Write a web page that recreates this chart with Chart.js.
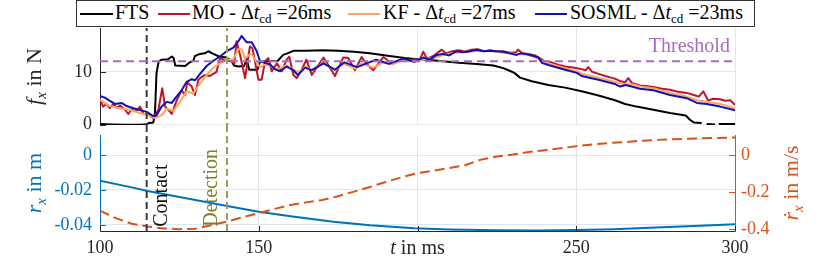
<!DOCTYPE html>
<html><head><meta charset="utf-8">
<script src="https://cdn.jsdelivr.net/npm/chart.js@4.4.1/dist/chart.umd.min.js"></script>
<style>
html,body{margin:0;padding:0;background:#fff;width:830px;height:257px;overflow:hidden;}
#wrap{position:relative;width:830px;height:257px;}
canvas{position:absolute;left:0;}
#c1{top:0;} #c2{top:130px;}
#legend{position:absolute;left:76px;top:0;width:677px;height:25px;border:1px solid #333;background:#fff;font-family:'Liberation Serif','DejaVu Serif',serif;font-size:20px;color:#000;z-index:5;}
.s{position:absolute;top:12px;height:2px;width:33px;}
.t{position:absolute;top:-1px;line-height:24px;white-space:nowrap;}
.t sub{font-size:13px;vertical-align:baseline;position:relative;top:4px;line-height:0;}
</style></head>
<body><div id="wrap">
<canvas id="c1" width="830" height="130"></canvas>
<canvas id="c2" width="830" height="127"></canvas>
<div id="legend">
<div class="s" style="left:3px;background:#000"></div><div class="t" style="left:38px">FTS</div>
<div class="s" style="left:81px;width:32px;background:#C0142C"></div><div class="t" style="left:115px">MO - Δ<i>t</i><sub>cd</sub> =26ms</div>
<div class="s" style="left:271px;width:32px;background:#FFA55A"></div><div class="t" style="left:306px">KF - Δ<i>t</i><sub>cd</sub> =27ms</div>
<div class="s" style="left:458px;width:32px;background:#1010B8"></div><div class="t" style="left:493px">SOSML - Δ<i>t</i><sub>cd</sub> =23ms</div>
</div>
</div>
<script>
// ---------- data ----------
const xTicks = [100,150,200,250,300];
const fTicks = [0,10];
const rTicks = [0,-0.02,-0.04];
const vTicks = [0,-0.2,-0.4];
const thresholdF = 12;
const contactT = 114.7;
const detectT = 140;

const ftsT = [100,104,108,112,114.5,115.5,116.8,117.3,117.8,118.5,119.4,121.5,122.6,123.2,123.7,126.8,128.3,129.4,129.9,131.5,133,134.1,135.7,137.5,139.9,141.5,142.2,143.6,145.4,146.2,147,149.6,150.4,153,156,157.7,159,161,165,170,175,180,185,190,196,200,203,208,213,218.6,223.9,227,229,230.5,232.3,236,241.2,246.5,251.7,257,262.2,265.4,269,274.3,279.5,284.5,285.8,287,289.5,290.3,291.1,293.7,294.3,294.9,300];
const ftsF = [0.1,0.0,-0.05,-0.05,0.0,0.3,0.4,2.0,9.8,12.0,12.3,12.4,12.9,12.6,11.2,11.1,11.8,12.1,13.0,13.4,13.5,13.9,13.4,12.9,12.7,12.0,11.2,11.0,11.1,12.4,10.4,10.4,11.9,12.0,12.1,13.2,13.5,14.0,14.0,14.1,14.0,13.8,13.5,13.1,12.6,12.4,12.3,12.0,11.7,11.5,11.2,10.7,10.2,9.8,8.9,8.2,7.5,7.0,6.3,5.5,4.6,3.9,3.4,2.8,2.2,1.7,0.9,0.4,0.3,null,0.1,0.0,null,0.1,0.1];

const moT = [100,101,102,103.1,104.2,105.2,106.3,107.9,108.9,110,111.3,112.6,113.7,115.2,116.8,118.4,119.6,120.5,121.5,122.6,124.1,125.7,126.8,127.5,128.9,129.9,131,132,133.1,134.5,136.7,137.8,139.9,141.5,142.3,143,144.2,145.7,147.2,148,149.9,150.9,152,153,154.1,155.7,157.2,158.8,159.6,160.9,162,164,165,166.7,168.5,170.4,172,174,176.6,178.2,180.3,182.4,184,186.1,189.2,191,193,195,197,199,200.5,201.8,203,205,207.6,209,211,213,215,217,219,221,223,225,227,229,231,231.7,233,235,237,239,240,242,244,246.5,249,251,253,253.8,255,257,259.1,261,262.2,264,265.4,266.4,267.5,270,272,274.3,277,279.5,282,284.8,287,288.6,290,291.6,293,295.3,297,298.5,300];
const moF = [4.7,3.4,3.9,3.1,3.9,3.2,3.6,2.8,2.0,2.9,2.5,3.4,2.0,1.9,1.2,2.8,6.9,3.4,2.8,2.0,4.5,6.5,5.6,8.0,7.2,5.6,8.5,9.0,9.4,9.2,10.0,12.6,12.1,12.0,11.5,15.8,13.0,8.8,14.8,14.5,8.5,8.5,12.0,12.6,10.1,11.6,10.1,12.3,12.9,9.4,8.8,11.0,12.3,9.4,11.0,12.7,11.2,9.2,12.7,12.6,10.3,12.8,11.5,10.3,12.8,12.0,11.8,12.4,12.0,12.4,12.0,13.8,12.5,13.0,14.2,13.5,13.9,14.1,13.8,14.2,14.3,13.9,14.1,13.8,13.9,13.6,13.7,14.2,13.5,13.4,13.1,12.4,12.0,11.8,11.4,11.0,10.8,10.6,10.3,10.9,10.0,9.6,9.2,8.9,8.7,8.2,8.0,8.8,7.9,7.4,7.3,7.1,6.8,6.6,6.2,6.0,5.6,5.3,6.3,4.5,4.9,4.8,4.5,4.6,3.7];

const kfT = [100,103.1,106.3,109.4,112.6,115.7,117.3,119.4,121,123.1,125.2,127.3,129.4,131.5,133.6,135.7,137.8,139.9,142,143.6,144.6,145.7,146.7,147.8,149.3,150.4,152,153.6,155.1,156.7,158.8,160.9,162.5,165,166.7,170.4,174,176.6,180.3,182.4,186.1,189.2,192,195.5,199,202,205,208,212,216,219,223,227,231,234,237,239.5,242,246.5,250,252,257,262,265,268,270,274.3,279.5,284.8,288,291,295.3,300];
const kfF = [4.7,3.5,3.1,2.8,2.2,1.7,1.2,1.8,3.0,2.6,4.3,6.3,5.9,7.8,9.4,10.8,11.6,12.3,12.4,14.3,14.3,12.5,13.1,13.4,11.8,10.9,11.4,11.2,10.5,10.7,11.2,10.4,10.0,11.0,10.3,11.7,10.3,11.6,10.6,11.6,10.8,11.8,11.4,12.2,11.9,12.4,12.6,13.2,13.6,13.8,14.0,13.9,13.6,13.4,13.3,12.8,11.9,11.5,10.7,10.1,9.6,8.9,8.1,7.7,7.6,7.2,6.9,6.0,5.3,4.6,4.3,3.9,3.1];

const smT = [100,101.5,103.1,104.7,106.8,108.4,110.5,112.6,114.7,116.8,117.8,119.4,121,122.6,124.1,125.7,127.3,128.9,130,131.5,133.6,135.7,137.8,139.9,142,143.6,144.6,146.2,147.8,149.3,150.4,152,153.6,155.1,156.7,158.8,160.9,162.3,164.6,166.7,170.4,174,177,181,184,187,191,195.5,199,201.8,203.9,206,208.1,210,212.3,214.5,216.5,218.6,220.7,222.8,225,227,229.1,231.2,232.5,234,236,238.1,239.2,241.2,246.5,250.2,251.7,257,262.2,263.8,265.5,267.5,270,274.3,279.5,284.8,288,291.1,295.3,300];
const smF = [5.4,5.1,4.5,3.9,4.1,3.5,3.1,2.75,2.4,1.6,1.7,3.4,4.3,4.1,5.3,6.5,8.1,8.6,8.4,9.6,11.1,12.1,12.9,13.9,14.6,15.8,16.8,15.6,15.6,14.0,12.0,11.7,11.4,10.5,10.1,11.0,10.3,9.4,10.8,10.3,11.6,10.4,11.8,10.9,11.6,12.3,11.5,12.5,11.9,12.7,12.3,13.2,13.4,13.1,13.9,13.7,13.9,14.2,13.9,14.0,13.9,13.8,13.5,13.2,13.5,13.4,13.1,12.7,11.7,11.3,10.4,9.8,9.2,8.5,7.7,7.2,7.5,7.2,6.8,6.5,5.6,5.0,4.1,3.9,3.4,2.7];

const rT = [100,110,115,125,130,140,150,160,173.5,185,199,210,225,238,250,262,275,287,300];
const rX = [-0.0147,-0.0185,-0.0206,-0.0240,-0.0257,-0.0291,-0.0324,-0.0350,-0.0381,-0.0401,-0.0419,-0.0426,-0.0430,-0.0431,-0.0429,-0.0424,-0.0415,-0.0406,-0.0396];

const vT = [100,105,110,115,120,125,130,135,140,145,150,155,160,165,170,175,180,185,190,195,200,205,210,215,220,225,230,235,240,245,250,255,260,265,270,275,280,285,290,295,300];
const vX = [-0.30,-0.34,-0.37,-0.385,-0.395,-0.399,-0.397,-0.378,-0.358,-0.335,-0.313,-0.29,-0.269,-0.255,-0.242,-0.222,-0.197,-0.172,-0.145,-0.12,-0.097,-0.085,-0.07,-0.055,-0.025,-0.008,0.002,0.016,0.026,0.036,0.047,0.057,0.064,0.069,0.076,0.081,0.084,0.087,0.09,0.092,0.094];

// ---------- styles / layout ----------
const SERIF = "'Liberation Serif','DejaVu Serif',serif";
const C_FTS='#000000', C_MO='#C0142C', C_KF='#FFA55A', C_SM='#1010B8';
const C_THR='#A56DC0', C_CON='#3a3a3a', C_DET='#9C9C55', C_DETT='#7f7f26';
const C_R='#0072BD', C_V='#D95319', C_AX='#262626';
const F_MIN=-0.09, F_MAX=18.31, R_MIN=-0.04343, R_MAX=0.01143, V_MIN=-0.409, V_MAX=0.1075;

function pts(t,v){return t.map((x,i)=>({x:x,y:v[i]}));}

function rich(ctx, parts, x, y, o){
  ctx.save(); ctx.translate(x,y); if(o.rot) ctx.rotate(o.rot);
  ctx.fillStyle=o.color; ctx.textBaseline='alphabetic';
  const size=o.size;
  const fonts=parts.map(p=>(p.it?'italic ':'')+(p.sub?Math.round(size*0.7):size)+'px '+SERIF);
  let w=0; const ws=parts.map((p,i)=>{ctx.font=fonts[i]; const m=ctx.measureText(p.t).width; w+=m; return m;});
  let cx=o.align==='center'?-w/2:(o.align==='right'?-w:0);
  parts.forEach((p,i)=>{ctx.font=fonts[i]; ctx.fillText(p.t,cx,p.sub?size*0.22:0); cx+=ws[i];});
  ctx.restore();
}
function inTick(ctx,color,x0,y0,x1,y1){ctx.save();ctx.strokeStyle=color;ctx.lineWidth=1;ctx.beginPath();ctx.moveTo(x0,y0);ctx.lineTo(x1,y1);ctx.stroke();ctx.restore();}

const ln=(label,data,color,width,order,extra)=>Object.assign({label,data,borderColor:color,borderWidth:width,order,pointRadius:0,tension:0,fill:false,spanGaps:false,borderJoinStyle:'round'},extra||{});
const setTicks=arr=>s=>{s.ticks=arr.map(v=>({value:v}));};
const fitW=w=>s=>{s.width=w;s.paddingTop=0;s.paddingBottom=0;s.paddingLeft=0;s.paddingRight=0;};
const fitH=h=>s=>{s.height=h;s.paddingTop=0;s.paddingBottom=0;s.paddingLeft=0;s.paddingRight=0;};

// ---------- top chart ----------
const topPlugin={id:'topText',afterDatasetsDraw(chart){
  const ctx=chart.ctx, xs=chart.scales.x, ys=chart.scales.y, a=chart.chartArea;
  fTicks.forEach(v=>{const py=Math.round(ys.getPixelForValue(v))+0.5; inTick(ctx,C_AX,a.left,py,a.left+6,py);});
  rich(ctx,[{t:'Threshold'}], xs.getPixelForValue(298.4), ys.getPixelForValue(13.73), {size:20,color:C_THR,align:'right'});
  rich(ctx,[{t:'f',it:true},{t:'x',it:true,sub:true},{t:' in N'}], 41, (a.top+a.bottom)/2, {size:22,color:C_AX,align:'center',rot:-Math.PI/2});
}};

new Chart(document.getElementById('c1'),{type:'line',
  data:{datasets:[
    ln('Threshold',pts([100,300],[thresholdF,thresholdF]),C_THR,2,0,{borderDash:[8,5]}),
    ln('Contact',pts([contactT,contactT],[-1.05,F_MAX]),C_CON,2,1,{borderDash:[7,4],clip:false}),
    ln('Detection',pts([detectT,detectT],[-1.05,F_MAX]),C_DET,2,1,{borderDash:[7,4],clip:false}),
    ln('SOSML',pts(smT,smF),C_SM,2,2),
    ln('KF',pts(kfT,kfF),C_KF,2,3),
    ln('MO',pts(moT,moF),C_MO,2,4),
    ln('FTS',pts(ftsT,ftsF),C_FTS,2,5)
  ]},
  options:{responsive:false,animation:false,devicePixelRatio:1,
    layout:{padding:{top:28,right:95,left:0,bottom:0}},
    plugins:{legend:{display:false},tooltip:{enabled:false}},
    scales:{
      x:{type:'linear',min:100,max:300,afterBuildTicks:setTicks(xTicks),ticks:{display:false},
         grid:{color:'#e6e6e6',drawTicks:false},border:{display:false},afterFit:fitH(5)},
      y:{type:'linear',min:F_MIN,max:F_MAX,afterBuildTicks:setTicks(fTicks),
         ticks:{font:{family:SERIF,size:18},color:C_AX,padding:8},
         grid:{color:'#e6e6e6',drawTicks:false},border:{color:C_AX,width:1},afterFit:fitW(100)}
    }},
  plugins:[topPlugin]});

// ---------- bottom chart ----------
const botPlugin={id:'botText',afterDatasetsDraw(chart){
  const ctx=chart.ctx, xs=chart.scales.x, ys=chart.scales.y, y1=chart.scales.y1, a=chart.chartArea;
  xTicks.forEach(v=>{const px=Math.round(xs.getPixelForValue(v))+0.5; inTick(ctx,C_AX,px,a.bottom,px,a.bottom-5);});
  rTicks.forEach(v=>{const py=Math.round(ys.getPixelForValue(v))+0.5; inTick(ctx,C_R,a.left,py,a.left+6,py);});
  vTicks.forEach(v=>{const py=Math.round(y1.getPixelForValue(v))+0.5; inTick(ctx,C_V,a.right,py,a.right-6,py);});
  rich(ctx,[{t:'Contact'}], xs.getPixelForValue(121.0), ys.getPixelForValue(-0.041), {size:20,color:'#111',align:'left',rot:-Math.PI/2});
  rich(ctx,[{t:'Detection'}], xs.getPixelForValue(137.0), ys.getPixelForValue(-0.041), {size:20,color:C_DETT,align:'left',rot:-Math.PI/2});
  rich(ctx,[{t:'r',it:true},{t:'x',it:true,sub:true},{t:' in m'}], 41, (a.top+a.bottom)/2, {size:22,color:C_R,align:'center',rot:-Math.PI/2});
  rich(ctx,[{t:'\u1E59',it:true},{t:'x',it:true,sub:true},{t:' in m/s'}], 798, (a.top+a.bottom)/2, {size:22,color:C_V,align:'center',rot:-Math.PI/2});
  rich(ctx,[{t:'t',it:true},{t:' in ms'}], xs.getPixelForValue(200), a.bottom+23, {size:20,color:C_AX,align:'center'});
}};

new Chart(document.getElementById('c2'),{type:'line',
  data:{datasets:[
    ln('Contact',pts([contactT,contactT],[R_MIN,R_MAX+0.0029]),C_CON,2,0,{borderDash:[7,4],clip:false,yAxisID:'y'}),
    ln('Detection',pts([detectT,detectT],[R_MIN,R_MAX+0.0029]),C_DET,2,0,{borderDash:[7,4],clip:false,yAxisID:'y'}),
    ln('rdot',pts(vT,vX),C_V,2,1,{borderDash:[10,5],yAxisID:'y1'}),
    ln('r',pts(rT,rX),C_R,2,2,{yAxisID:'y'})
  ]},
  options:{responsive:false,animation:false,devicePixelRatio:1,
    layout:{padding:{top:5,right:0,left:0,bottom:0}},
    plugins:{legend:{display:false},tooltip:{enabled:false}},
    scales:{
      x:{type:'linear',min:100,max:300,afterBuildTicks:setTicks(xTicks),
         ticks:{font:{family:SERIF,size:18},color:C_AX,padding:6,maxRotation:0,callback:v=>v===200?'':String(v)},
         grid:{color:'#e3e3e3',drawTicks:false},border:{color:C_AX,width:1},afterFit:fitH(26)},
      y:{type:'linear',position:'left',min:R_MIN,max:R_MAX,afterBuildTicks:setTicks(rTicks),
         ticks:{font:{family:SERIF,size:18},color:C_R,padding:8,callback:v=>String(v)},
         grid:{color:'#dbe8f3',drawTicks:false},border:{color:C_R,width:1},afterFit:fitW(100)},
      y1:{type:'linear',position:'right',min:V_MIN,max:V_MAX,afterBuildTicks:setTicks(vTicks),
         ticks:{font:{family:SERIF,size:18},color:C_V,padding:6,callback:v=>String(v)},
         grid:{display:false,drawTicks:false},border:{color:C_V,width:1},afterFit:fitW(95)}
    }},
  plugins:[botPlugin]});
</script>
</body></html>
